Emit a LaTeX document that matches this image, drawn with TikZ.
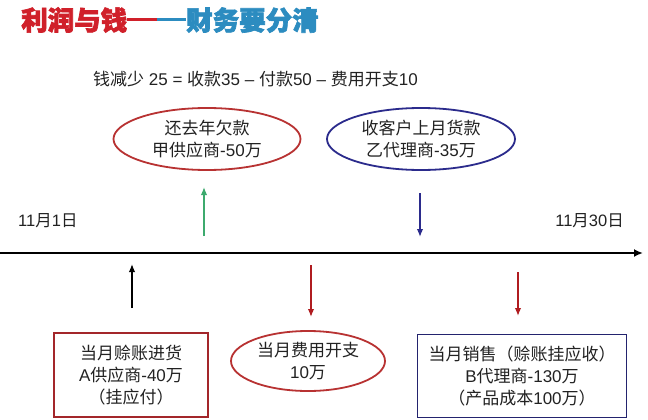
\documentclass[tikz,border=0pt]{standalone}
\usepackage{fontspec}
\setmainfont{Liberation Sans}
\newfontfamily\cjk{Noto Sans CJK SC}
\newfontfamily\titlefont[FakeBold=2.5]{Noto Sans CJK SC}
\newcommand{\cj}[1]{{\cjk #1}}
\usetikzlibrary{arrows.meta,shapes.geometric}
\definecolor{titleRed}{HTML}{D0202A}
\definecolor{titleBlue}{HTML}{2C8CC0}
\definecolor{ellRed}{HTML}{B83232}
\definecolor{ellBlue}{HTML}{2B2B8C}
\definecolor{boxRed}{HTML}{A3262A}
\definecolor{boxBlue}{HTML}{23236E}
\definecolor{arrRed}{HTML}{B01C20}
\definecolor{arrGreen}{HTML}{3DAA6E}
\definecolor{txt}{HTML}{222222}
\begin{document}
\begin{tikzpicture}[x=1pt,y=-1pt,
  body/.style={text=txt,font=\fontsize{17}{22}\selectfont,align=center,inner sep=0pt},
  ovalbox/.style={body,ellipse,draw,line width=1.8pt},
  rectbox/.style={body,rectangle,draw,line width=1.8pt},
  datelabel/.style={text=txt,font=\fontsize{16.5}{18}\selectfont,inner sep=0pt},
  evarrow/.style={line width=1.5pt,-{Latex[length=8pt,width=6.5pt]}}]
\useasboundingbox[fill=white] (0,0) rectangle (648,420);

% title
\node[anchor=west,inner sep=0pt,font=\titlefont\bfseries\fontsize{26.5}{30}\selectfont] (title) at (21,20)
  {\textcolor{titleRed}{利润与钱}\textcolor{titleRed}{\rule[9pt]{30pt}{3pt}}\textcolor{titleBlue}{\rule[9pt]{29pt}{3pt}财务要分清}};

% formula
\node[anchor=west,text=txt,inner sep=0pt,font=\fontsize{17}{20}\selectfont] (formula) at (93,79)
  {\cj{钱减少} 25 = \cj{收款}35 – \cj{付款}50 – \cj{费用开支}10};

% top ellipses
\node[ovalbox,draw=ellRed,minimum width=187,minimum height=62] (pay) at (207,139)
  {\cj{还去年欠款}\\\cj{甲供应商}-50\cj{万}};
\node[ovalbox,draw=ellBlue,minimum width=188,minimum height=62] (recv) at (421,139)
  {\cj{收客户上月货款}\\\cj{乙代理商}-35\cj{万}};

% timeline
\coordinate (axisL) at (0,253);
\coordinate (axisR) at (643,253);
\draw[line width=2pt,-{Latex[length=9pt,width=8pt]}] (axisL) -- (axisR);
\node[datelabel,anchor=west] (d1) at (18,221) {11\cj{月}1\cj{日}};
\node[datelabel,anchor=east] (d30) at (624,221) {11\cj{月}30\cj{日}};

% arrows above the axis
\coordinate (gA) at (204,236); \coordinate (gB) at (204,187);
\draw[evarrow,arrGreen] (gA) -- (gB);
\coordinate (bA) at (420,193); \coordinate (bB) at (420,237);
\draw[evarrow,ellBlue] (bA) -- (bB);

% arrows below the axis
\coordinate (kA) at (132,308); \coordinate (kB) at (132,264);
\draw[evarrow,black] (kA) -- (kB);
\coordinate (r1A) at (311,265); \coordinate (r1B) at (311,317);
\draw[evarrow,arrRed] (r1A) -- (r1B);
\coordinate (r2A) at (518,272); \coordinate (r2B) at (518,316);
\draw[evarrow,arrRed] (r2A) -- (r2B);

% bottom boxes
\node[rectbox,draw=boxRed,minimum width=154,minimum height=84] (buy) at (131,375)
  {\cj{当月赊账进货}\\A\cj{供应商}-40\cj{万}\\\cj{（挂应付）}};
\node[ovalbox,draw=ellRed,minimum width=154,minimum height=60] (cost) at (308,361)
  {\cj{当月费用开支}\\10\cj{万}};
\node[rectbox,draw=boxBlue,minimum width=209,minimum height=83] (sale) at (522,376)
  {\cj{当月销售（赊账挂应收）}\\B\cj{代理商}-130\cj{万}\\\cj{（产品成本}100\cj{万）}};
\end{tikzpicture}
\end{document}
